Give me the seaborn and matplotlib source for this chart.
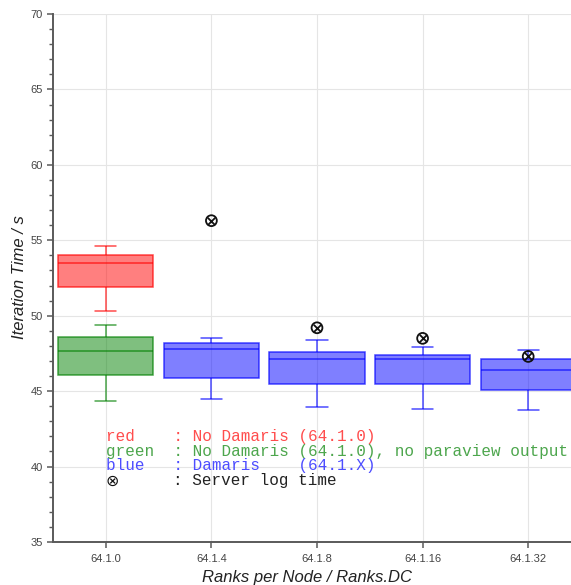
import numpy as np
import pandas as pd
import matplotlib
matplotlib.use("Agg")
import matplotlib.pyplot as plt
from matplotlib.ticker import MultipleLocator
import seaborn as sns

# ---------------- data ----------------
categories = ["64.1.0", "64.1.4", "64.1.8", "64.1.16", "64.1.32"]

red_cats = ["64.1.0"]
red_low = [50.3]
red_q1 = [51.9]
red_med = [53.5]
red_q3 = [54.05]
red_high = [54.6]

green_cats = ["64.1.0"]
green_low = [44.35]
green_q1 = [46.1]
green_med = [47.65]
green_q3 = [48.6]
green_high = [49.4]

blue_cats = ["64.1.4", "64.1.8", "64.1.16", "64.1.32"]
blue_low = [44.5, 43.95, 43.8, 43.75]
blue_q1 = [45.9, 45.5, 45.5, 45.1]
blue_med = [47.8, 47.1, 47.1, 46.4]
blue_q3 = [48.2, 47.6, 47.4, 47.1]
blue_high = [48.5, 48.4, 47.95, 47.75]

server_cats = ["64.1.4", "64.1.8", "64.1.16", "64.1.32"]
server_time = [56.3, 49.2, 48.5, 47.3]

legend_texts = [
    "red    : No Damaris (64.1.0)",
    "green  : No Damaris (64.1.0), no paraview output",
    "blue   : Damaris    (64.1.X)",
]
legend_colors = ["#ff4d4d", "#4da64d", "#4d4dff"]
legend_symbol = "\u2297"
legend_symbol_text = ": Server log time"

x_label = "Ranks per Node / Ranks.DC"
y_label = "Iteration Time / s"


def summary_frame(cats, low, q1, med, q3, high):
    rows = []
    for c, a, b, m, d, e in zip(cats, low, q1, med, q3, high):
        for v in (a, b, m, d, e):
            rows.append((c, v))
    return pd.DataFrame(rows, columns=["config", "time"])


df_red = summary_frame(red_cats, red_low, red_q1, red_med, red_q3, red_high)
df_green = summary_frame(green_cats, green_low, green_q1, green_med, green_q3, green_high)
df_blue = summary_frame(blue_cats, blue_low, blue_q1, blue_med, blue_q3, blue_high)
df_server = pd.DataFrame({"config": server_cats, "time": server_time})

# ---------------- style ----------------
sns.set_style("white")
plt.rcParams["font.family"] = ["Liberation Sans", "DejaVu Sans"]

W, H = 571, 585
fig = plt.figure(figsize=(W / 100, H / 100), dpi=100)
ax = fig.add_axes([53 / W, 43 / H, 528 / W, 528 / H])
ax.set_axisbelow(True)

LINE_ALPHA = 0.7
FACE_ALPHA = 0.5


def draw_boxes(df, rgb):
    face = (*rgb, FACE_ALPHA)
    line = (*rgb, LINE_ALPHA)
    lw = 1.1
    sns.boxplot(
        data=df, x="config", y="time", order=categories, width=0.9,
        whis=(0, 100), saturation=1, fill=True, showfliers=False,
        color=rgb, linewidth=lw,
        boxprops=dict(facecolor=face, edgecolor=line, linewidth=lw),
        medianprops=dict(color=line, linewidth=lw),
        whiskerprops=dict(color=line, linewidth=lw),
        capprops=dict(color=line, linewidth=lw),
        capwidths=0.2, ax=ax,
    )


draw_boxes(df_red, (1.0, 0.0, 0.0))
draw_boxes(df_green, (0.0, 0.5, 0.0))
draw_boxes(df_blue, (0.0, 0.0, 1.0))

# server log markers: open circle + x
n0 = len(ax.collections)
sns.stripplot(data=df_server, x="config", y="time", order=categories,
              jitter=False, marker="o", size=7.8, color="black",
              edgecolor="black", linewidth=1.3, ax=ax, zorder=6)
for coll in ax.collections[n0:]:
    coll.set_facecolor("none")
    coll.set_edgecolor("#111111")
    coll.set_linewidth(1.3)
sns.stripplot(data=df_server, x="config", y="time", order=categories,
              jitter=False, marker="x", size=5.4, color="#111111",
              linewidth=1.3, ax=ax, zorder=6)

# legend-like text block
FS = 11.5
MONO = ["Liberation Mono", "DejaVu Sans Mono"]
text_y = [41.72, 40.73, 39.74, 38.75]
for t, c, yy in zip(legend_texts, legend_colors, text_y[:3]):
    ax.text(0, yy, t, color=c, fontsize=FS, ha="left", va="baseline",
            family=MONO, zorder=7)
ax.text(0, text_y[3], legend_symbol, color="#111111", fontsize=FS,
        ha="left", va="baseline", family=["DejaVu Sans"], zorder=7)
ax.annotate(legend_symbol_text, xy=(0, text_y[3]),
            xytext=(7 * 0.6 * FS, 0), textcoords="offset points",
            color="#222222", fontsize=FS, ha="left", va="baseline",
            family=MONO, zorder=7)

# ---------------- axes ----------------
ax.set_xlim(-0.5, 4.5)
ax.set_ylim(35, 70)
ax.yaxis.set_major_locator(MultipleLocator(5))
ax.yaxis.set_minor_locator(MultipleLocator(1))
ax.set_xticks(range(len(categories)))
ax.set_xticklabels(categories)

ax.grid(True, which="major", color="#e5e5e5", linewidth=0.8)
for s in ("top", "right"):
    ax.spines[s].set_visible(False)
for s in ("left", "bottom"):
    ax.spines[s].set_color("#5a5a5a")
    ax.spines[s].set_linewidth(1.4)

ax.tick_params(axis="both", which="major", direction="out", length=4.3,
               width=1.1, color="#5a5a5a", labelsize=8, labelcolor="#444444")
ax.tick_params(axis="x", which="major", pad=4)
ax.tick_params(axis="y", which="major", pad=3, left=True)
ax.tick_params(axis="y", which="minor", direction="out", length=2.9,
               width=1.0, color="#5a5a5a", left=True)
ax.tick_params(axis="x", bottom=True)

ax.set_xlabel(x_label, fontsize=12, style="italic", color="#222222", va="center")
ax.set_ylabel(y_label, fontsize=12, style="italic", color="#222222", va="center")
ax.xaxis.set_label_coords(0.481, -0.067)
ax.yaxis.set_label_coords(-0.063, 0.501)

fig.savefig("out.png", dpi=100)
